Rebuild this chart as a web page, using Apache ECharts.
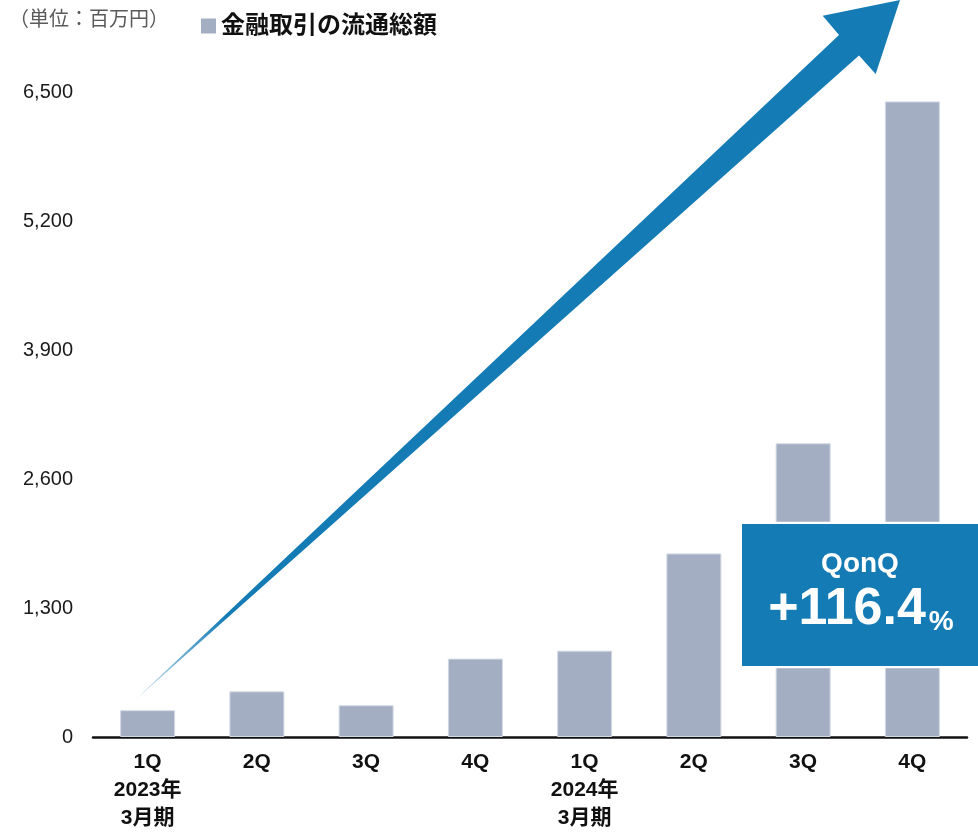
<!DOCTYPE html>
<html>
<head>
<meta charset="utf-8">
<script src="https://cdn.jsdelivr.net/npm/echarts@6/dist/echarts.min.js"></script>
<style>
  html, body { margin: 0; padding: 0; background: #fff; }
  #chart { width: 978px; height: 834px; }
</style>
</head>
<body>
<div id="chart"></div>
<script>
// Quarterly financial transaction volume (millions of yen)
const categories = ['1Q\n2023年\n3月期', '2Q', '3Q', '4Q', '1Q\n2024年\n3月期', '2Q', '3Q', '4Q'];
const volumes = [270, 460, 320, 790, 870, 1850, 2960, 6405];
const seriesName = '金融取引の流通総額';
const unitText = '（単位：百万円）';
const yMin = 0;
const yMax = 6500;
const yStep = 1300;

const BLUE = '#147bb5';
const BAR = '#a3aec2';
const LATIN = '"Liberation Sans", Arial, "Noto Sans CJK JP", sans-serif';

// Quarter-on-quarter growth of the latest quarter
const last = volumes[volumes.length - 1];
const prev = volumes[volumes.length - 2];
const qoq = ((last / prev - 1) * 100).toFixed(1);

const chart = echarts.init(document.getElementById('chart'));

chart.setOption({
  animation: false,
  backgroundColor: '#ffffff',
  grid: { left: 93, right: 11, top: 92, bottom: 97, containLabel: false },
  legend: {
    data: [seriesName],
    left: 196,
    top: 9,
    icon: 'rect',
    itemWidth: 15,
    itemHeight: 15,
    itemGap: 5,
    itemStyle: { borderWidth: 0 },
    textStyle: {
      fontFamily: LATIN,
      fontSize: 24,
      fontWeight: 'bold',
      color: '#111111',
      padding: [0, 0, 0, 0]
    }
  },
  xAxis: {
    type: 'category',
    data: categories,
    axisLine: { show: true, lineStyle: { color: '#111111', width: 2.5 } },
    axisTick: { show: false },
    axisLabel: {
      margin: 11,
      interval: 0,
      fontFamily: LATIN,
      fontSize: 21,
      fontWeight: 'bold',
      color: '#111111',
      lineHeight: 28
    }
  },
  yAxis: {
    type: 'value',
    min: yMin,
    max: yMax,
    interval: yStep,
    axisLine: { show: false },
    axisTick: { show: false },
    splitLine: { show: false },
    axisLabel: {
      margin: 20,
      fontFamily: LATIN,
      fontSize: 20,
      color: '#1a1a1a',
      formatter: v => v.toLocaleString('en-US')
    }
  },
  series: [{
    name: seriesName,
    type: 'bar',
    data: volumes,
    barWidth: 55,
    itemStyle: { color: BAR, borderColor: '#d3d9e3', borderWidth: 1 }
  }],
  graphic: [
    {
      type: 'text',
      left: 9,
      top: 8,
      z: 100,
      style: {
        text: unitText,
        fontFamily: '"Noto Sans CJK JP", sans-serif',
        fontSize: 20,
        fill: '#5a5a5a'
      }
    },
    {
      // rising arrow across the chart
      type: 'polygon',
      z: 50,
      shape: {
        points: [
          [134, 701],
          [859, 55.5],
          [875.7, 74],
          [900, 0],
          [822.7, 15.7],
          [839, 35]
        ]
      },
      style: {
        fill: {
          type: 'linear',
          x: 134, y: 701, x2: 400, y2: 460,
          global: true,
          colorStops: [
            { offset: 0, color: 'rgba(20,123,181,0.25)' },
            { offset: 0.35, color: BLUE },
            { offset: 1, color: BLUE }
          ]
        }
      }
    },
    {
      // white margin around the growth box
      type: 'rect',
      z: 60,
      shape: { x: 739.7, y: 521.7, width: 245, height: 146.6 },
      style: { fill: '#ffffff' }
    },
    {
      type: 'rect',
      z: 61,
      shape: { x: 742, y: 524, width: 240, height: 142 },
      style: { fill: BLUE }
    },
    {
      type: 'text',
      z: 62,
      x: 860,
      y: 564,
      style: {
        text: 'QonQ',
        fontFamily: LATIN,
        fontSize: 28,
        fontWeight: 'bold',
        fill: '#ffffff',
        align: 'center',
        verticalAlign: 'middle'
      }
    },
    {
      type: 'text',
      z: 62,
      x: 861,
      y: 636,
      style: {
        text: '{a|+' + qoq + '}{b|%}',
        align: 'center',
        verticalAlign: 'bottom',
        rich: {
          a: {
            fontFamily: LATIN,
            fontSize: 52,
            fontWeight: 'bold',
            fill: '#ffffff',
            verticalAlign: 'bottom',
            lineHeight: 52
          },
          b: {
            fontFamily: LATIN,
            fontSize: 28,
            fontWeight: 'bold',
            fill: '#ffffff',
            verticalAlign: 'bottom',
            lineHeight: 52,
            padding: [0, 0, 0, 3]
          }
        }
      }
    }
  ]
});
</script>
</body>
</html>
